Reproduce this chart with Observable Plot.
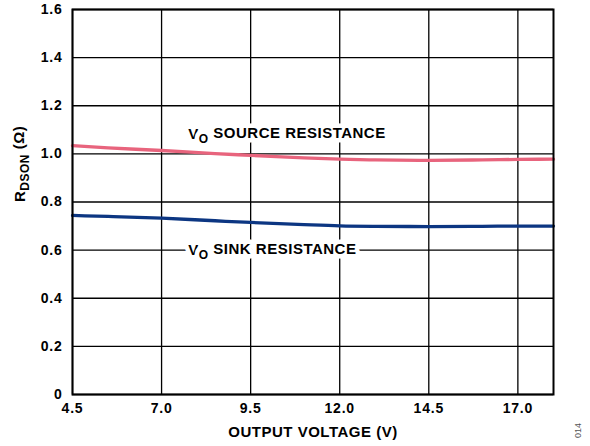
<!DOCTYPE html>
<html><head><meta charset="utf-8">
<script src="https://cdn.jsdelivr.net/npm/d3@7"></script>
<script src="https://cdn.jsdelivr.net/npm/@observablehq/plot@0.6"></script>
<style>
body{margin:0;background:#fff;}
#chart svg{font-family:"Liberation Sans",Arial,sans-serif;font-weight:bold;}
#chart svg [aria-label^="x-axis tick label"] text, #chart svg [aria-label^="y-axis tick label"] text{letter-spacing:0.8px;}
#chart svg .sublabel text, #chart svg .axislabel text{letter-spacing:0.5px;}
</style></head>
<body><div id="chart"></div>
<script>
const voltage = [4.5, 5.5, 7.0, 8.5, 9.5, 11.0, 12.0, 13.0, 14.5, 16.0, 17.0, 18.0];
const sourceR = [1.034, 1.025, 1.014, 1.001, 0.994, 0.983, 0.978, 0.975, 0.973, 0.975, 0.977, 0.978];
const sinkR   = [0.744, 0.740, 0.733, 0.722, 0.715, 0.706, 0.701, 0.699, 0.698, 0.699, 0.700, 0.700];
const xTicks = [4.5, 7.0, 9.5, 12.0, 14.5, 17.0];
const yTicks = [0, 0.2, 0.4, 0.6, 0.8, 1.0, 1.2, 1.4, 1.6];
const seriesNames = ["V|O| SOURCE RESISTANCE", "V|O| SINK RESISTANCE"];
const labelX = [10.52, 10.11];
const labelY = [1.081, 0.6];

const sourceData = voltage.map((v, i) => ({x: v, y: sourceR[i]}));
const sinkData = voltage.map((v, i) => ({x: v, y: sinkR[i]}));
const labelData = seriesNames.map((t, i) => ({x: labelX[i], y: labelY[i], t}));

const plot = Plot.plot({
  width: 590, height: 446,
  marginLeft: 72, marginRight: 37, marginTop: 9, marginBottom: 52,
  style: {fontFamily: '"Liberation Sans", Arial, sans-serif', fontWeight: "bold", background: "#fff"},
  x: {domain: [4.5, 18], ticks: xTicks},
  y: {domain: [0, 1.6], ticks: yTicks},
  marks: [
    Plot.ruleX(xTicks, {stroke: "#000", strokeWidth: 1.3}),
    Plot.ruleY(yTicks, {stroke: "#000", strokeWidth: 1.3}),
    Plot.line(sourceData, {x: "x", y: "y", stroke: "#e8647d", strokeWidth: 3.3, curve: "monotone-x"}),
    Plot.line(sinkData, {x: "x", y: "y", stroke: "#0c3682", strokeWidth: 3.3, curve: "monotone-x"}),
    Plot.text(labelData, {x: "x", y: "y", text: "t", fill: "#000", stroke: "white", strokeWidth: 9, fontSize: 15, fontWeight: "bold", className: "sublabel"}),
    Plot.axisX({ticks: xTicks, tickSize: 0, tickPadding: 9, fontSize: 14, tickFormat: d => d.toFixed(1), label: null}),
    Plot.axisY({ticks: yTicks, tickSize: 0, tickPadding: 10, fontSize: 14, tickFormat: d => d === 0 ? "0" : d.toFixed(1), label: null}),
    Plot.text(["OUTPUT VOLTAGE (V)"], {frameAnchor: "bottom", dy: 42, fontSize: 15, fontWeight: "bold", fill: "#000", className: "axislabel"}),
    Plot.text(["R|DSON| (Ω)"], {frameAnchor: "left", dx: -52, rotate: -90, fontSize: 15, fontWeight: "bold", fill: "#000", className: "sublabel"}),
    Plot.text(["014"], {frameAnchor: "bottom-right", dx: 25, dy: 36, rotate: -90, textAnchor: "middle", lineAnchor: "middle", fontSize: 9, fontWeight: "normal", fill: "#555"}),
    Plot.frame({stroke: "#000", strokeWidth: 2})
  ]
});

d3.select(plot).selectAll(".sublabel text").each(function() {
  const parts = this.textContent.split("|");
  if (parts.length < 3) return;
  const el = d3.select(this);
  el.text(null);
  el.append("tspan").text(parts[0]);
  el.append("tspan").attr("dy", "0.3em").attr("font-size", "0.8em").text(parts[1]);
  el.append("tspan").attr("dy", "-0.3em").text(parts[2]);
});
document.getElementById("chart").appendChild(plot);
</script>
</body></html>
